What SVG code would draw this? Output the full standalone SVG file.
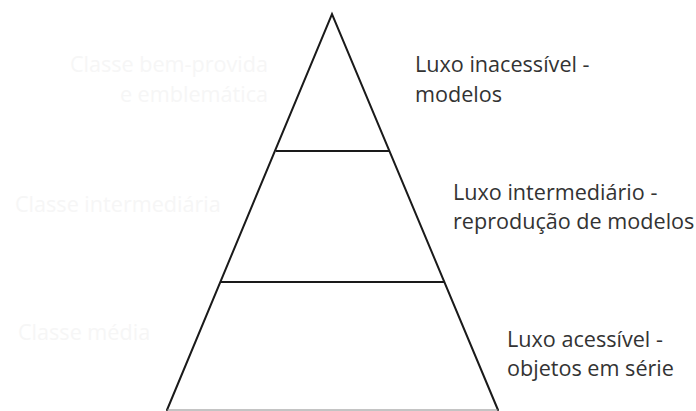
<svg xmlns="http://www.w3.org/2000/svg" width="696" height="411" viewBox="0 0 696 411">
  <style>
    .lbl { font-family: "Open Sans", "Liberation Sans", sans-serif; font-size: 21.6px; fill: #333333; }
    .faint { font-family: "Open Sans", "Liberation Sans", sans-serif; font-size: 21.6px; fill: #f6f6f6; }
    .edge { stroke: #1a1a1a; stroke-width: 2; fill: none; stroke-linecap: round; }
    .tier { stroke: #1a1a1a; stroke-width: 2.2; }
    .base { stroke: #8a8a8a; stroke-width: 1.2; }
  </style>
  <rect width="696" height="411" fill="#ffffff"/>

  <!-- pyramid outline and tier dividers -->
  <g id="connectors">
    <polyline class="edge" points="167,410 332,14 498,410"/>
    <line class="tier" x1="276" y1="151" x2="389" y2="151"/>
    <line class="tier" x1="221" y1="282" x2="444" y2="282"/>
    <line class="base" x1="167" y1="410" x2="498" y2="410"/>
  </g>

  <!-- class labels (left, very light) -->
  <g id="classe-bem-provida">
    <text class="faint" x="268" y="72" text-anchor="end">Classe bem-provida</text>
    <text class="faint" x="268" y="102" text-anchor="end">e emblemática</text>
  </g>
  <g id="classe-intermediaria">
    <text class="faint" x="15" y="212">Classe intermediária</text>
  </g>
  <g id="classe-media">
    <text class="faint" x="18" y="340">Classe média</text>
  </g>

  <!-- luxury labels (right) -->
  <g id="luxo-inacessivel">
    <text class="lbl" x="415" y="72">Luxo inacessível -</text>
    <text class="lbl" x="415" y="102">modelos</text>
  </g>
  <g id="luxo-intermediario">
    <text class="lbl" x="453" y="200">Luxo intermediário -</text>
    <text class="lbl" x="453" y="229">reprodução de modelos</text>
  </g>
  <g id="luxo-acessivel">
    <text class="lbl" x="507" y="347">Luxo acessível -</text>
    <text class="lbl" x="507" y="376">objetos em série</text>
  </g>
</svg>
